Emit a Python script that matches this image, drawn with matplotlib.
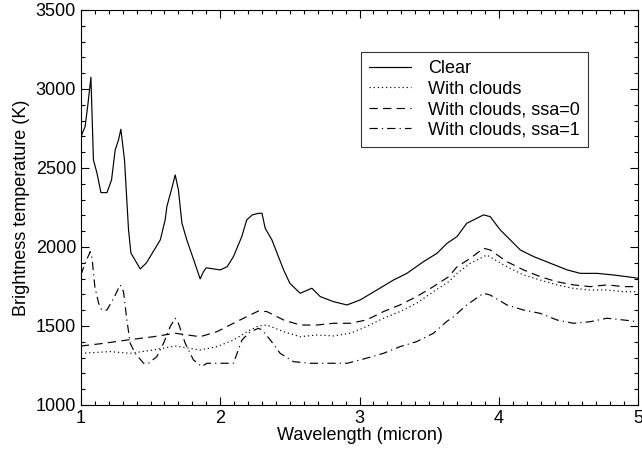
import matplotlib
matplotlib.use('Agg')
import matplotlib.pyplot as plt
from matplotlib.ticker import MultipleLocator

plt.rcParams['font.family'] = ['Liberation Sans', 'DejaVu Sans']

# Clear
clear_x = [1.00, 1.01, 1.03, 1.05, 1.072, 1.09, 1.115, 1.144, 1.187, 1.22, 1.246, 1.27, 1.287,
           1.313, 1.342, 1.359, 1.426, 1.47, 1.57, 1.605, 1.617, 1.653, 1.677, 1.70,
           1.725, 1.76, 1.81, 1.856, 1.88, 1.90, 2.00, 2.05, 2.095, 2.155, 2.19, 2.23,
           2.275, 2.30, 2.323, 2.371, 2.455, 2.50, 2.574, 2.658, 2.718, 2.813, 2.91,
           3.005, 3.125, 3.244, 3.34, 3.459, 3.556, 3.628, 3.70, 3.77, 3.89, 3.938,
           4.01, 4.082, 4.154, 4.25, 4.37, 4.49, 4.585, 4.705, 4.82, 4.92, 5.00]
clear_y = [2680, 2720, 2760, 2900, 3074, 2551, 2469, 2344, 2344, 2424, 2614, 2677, 2745,
           2551, 2108, 1962, 1861, 1899, 2045, 2171, 2255, 2373, 2456, 2361,
           2152, 2045, 1918, 1798, 1844, 1868, 1855, 1875, 1939, 2066, 2171, 2203,
           2213, 2213, 2118, 2045, 1855, 1770, 1707, 1739, 1686, 1654, 1633,
           1665, 1728, 1791, 1833, 1907, 1960, 2023, 2066, 2150, 2203, 2192,
           2108, 2045, 1981, 1939, 1897, 1855, 1833, 1833, 1823, 1812, 1802]

# With clouds
cloud_x = [1.00, 1.21, 1.354, 1.52, 1.677, 1.856, 1.976, 2.095, 2.215, 2.275, 2.335,
           2.455, 2.574, 2.694, 2.813, 2.933, 3.05, 3.172, 3.29, 3.41, 3.53, 3.64,
           3.70, 3.795, 3.914, 4.058, 4.177, 4.297, 4.417, 4.536, 4.656, 4.776,
           4.895, 5.00]
cloud_y = [1327, 1338, 1327, 1348, 1373, 1348, 1369, 1411, 1475, 1500, 1506,
           1464, 1432, 1443, 1437, 1454, 1496, 1549, 1591, 1644, 1717, 1780,
           1833, 1897, 1949, 1875, 1823, 1791, 1760, 1738, 1728, 1728,
           1717, 1717]

# With clouds, ssa=0
ssa0_x = [1.00, 1.162, 1.33, 1.52, 1.677, 1.856, 1.976, 2.095, 2.19, 2.275, 2.335,
          2.455, 2.574, 2.694, 2.813, 2.933, 3.05, 3.172, 3.29, 3.41, 3.53, 3.64,
          3.70, 3.795, 3.89, 3.938, 4.058, 4.177, 4.297, 4.417, 4.536, 4.656,
          4.776, 4.895, 5.00]
ssa0_y = [1373, 1390, 1411, 1432, 1454, 1432, 1464, 1517, 1559, 1595, 1591,
          1538, 1506, 1506, 1517, 1517, 1538, 1591, 1633, 1686, 1749, 1812,
          1875, 1928, 1992, 1981, 1907, 1855, 1812, 1780, 1760, 1749,
          1760, 1749, 1749]

# With clouds, ssa=1
ssa1_x = [1.00, 1.03, 1.067, 1.08, 1.10, 1.127, 1.15, 1.187, 1.235, 1.282, 1.306,
          1.33, 1.354, 1.39, 1.45, 1.485, 1.545, 1.593, 1.641, 1.677, 1.70, 1.749,
          1.808, 1.868, 1.904, 1.976, 2.024, 2.095, 2.156, 2.215, 2.275, 2.30,
          2.36, 2.43, 2.527, 2.646, 2.79, 2.91, 3.005, 3.172, 3.29, 3.41, 3.53,
          3.628, 3.675, 3.77, 3.89, 3.938, 4.058, 4.177, 4.297, 4.417, 4.536,
          4.656, 4.776, 4.895, 5.00]
ssa1_y = [1823, 1897, 1970, 1930, 1749, 1644, 1601, 1601, 1675, 1760, 1717,
          1538, 1390, 1327, 1264, 1264, 1306, 1390, 1496, 1549, 1517, 1390,
          1285, 1243, 1264, 1264, 1264, 1264, 1411, 1464, 1485, 1475,
          1411, 1327, 1274, 1264, 1264, 1264, 1285, 1327, 1369, 1401, 1454,
          1530, 1559, 1633, 1707, 1696, 1633, 1601, 1580, 1538, 1517,
          1527, 1549, 1538, 1527]

fs = 13

fig = plt.figure(figsize=(6.42, 4.53), dpi=100)
ax = fig.add_axes([0.126, 0.106, 0.868, 0.872])

lw = 0.85
ax.plot(clear_x, clear_y, color='black', lw=lw, label='Clear')
ax.plot(cloud_x, cloud_y, color='black', lw=lw, linestyle=(0, (1, 2.5)), label='With clouds')
ax.plot(ssa0_x, ssa0_y, color='black', lw=lw, linestyle=(0, (7, 4.5)), label='With clouds, ssa=0')
ax.plot(ssa1_x, ssa1_y, color='black', lw=lw, linestyle=(0, (7, 3.5, 1, 3.5)), label='With clouds, ssa=1')

ax.set_xlim(1, 5)
ax.set_ylim(1000, 3500)
ax.xaxis.set_major_locator(MultipleLocator(1))
ax.xaxis.set_minor_locator(MultipleLocator(0.1))
ax.yaxis.set_major_locator(MultipleLocator(500))
ax.yaxis.set_minor_locator(MultipleLocator(100))
ax.tick_params(which='both', direction='in', top=True, right=True, labelsize=fs, width=0.8)
ax.tick_params(which='major', length=6)
ax.tick_params(which='minor', length=3)
for s in ax.spines.values():
    s.set_linewidth(0.8)

ax.set_xlabel('Wavelength (micron)', fontsize=fs, labelpad=0)
ax.set_ylabel('Brightness temperature (K)', fontsize=fs, labelpad=4)

leg = ax.legend(loc='upper left', bbox_to_anchor=(0.503, 0.894), fontsize=fs,
                frameon=True, fancybox=False, handlelength=2.3, borderpad=0.45,
                labelspacing=0.2, handletextpad=0.95, borderaxespad=0)
leg.get_frame().set_edgecolor('black')
leg.get_frame().set_linewidth(0.8)

fig.savefig('out.png', dpi=100)
